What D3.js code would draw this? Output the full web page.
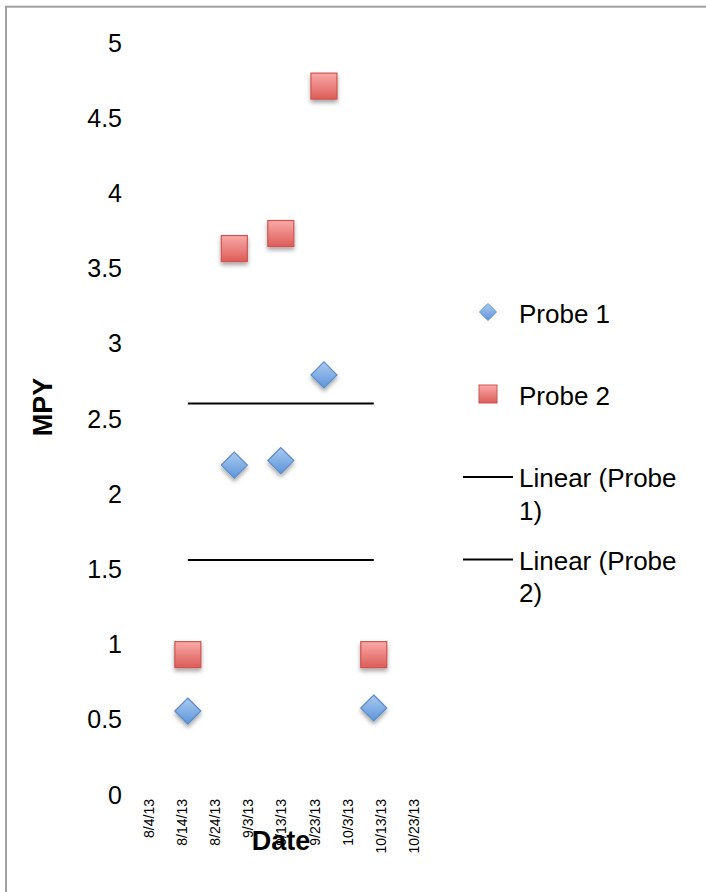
<!DOCTYPE html>
<html>
<head>
<meta charset="utf-8">
<script src="https://cdnjs.cloudflare.com/ajax/libs/d3/7.8.5/d3.min.js"></script>
<style>
	body { margin: 0; background: #fff; }
	text { font-family: Arial, 'Liberation Sans', sans-serif; fill: #000; }
</style>
</head>
<body>
<script>
// data
var dates = ['2013-08-16', '2013-08-30', '2013-09-13', '2013-09-26', '2013-10-11'];
var probe1 = [0.555, 2.19, 2.22, 2.79, 0.575];
var probe2 = [0.93, 3.63, 3.73, 4.71, 0.93];
var trend1 = [1.56, 1.56];   // Linear (Probe 1), start/end
var trend2 = [2.60, 2.60];   // Linear (Probe 2), start/end
var xTicks = ['2013-08-04', '2013-08-14', '2013-08-24', '2013-09-03', '2013-09-13',
	'2013-09-23', '2013-10-03', '2013-10-13', '2013-10-23'];
var yTicks = [0, 0.5, 1, 1.5, 2, 2.5, 3, 3.5, 4, 4.5, 5];
var seriesNames = ['Probe 1', 'Probe 2'];
var trendNames = [['Linear (Probe', '1)'], ['Linear (Probe', '2)']];

var width = 706,
	height = 892;

var parse = d3.utcParse('%Y-%m-%d'),
	fmt = d3.utcFormat('%-m/%-d/%y');

var x = d3.scaleUtc()
	.domain([parse(xTicks[0]), parse(xTicks[xTicks.length - 1])])
	.range([148, 413.6]);
var y = d3.scaleLinear().domain([0, 5]).range([794.5, 42.5]);

var svg = d3.select('body').append('svg')
	.attr('width', width)
	.attr('height', height);

var defs = svg.append('defs');

var gBlue = defs.append('linearGradient')
	.attr('id', 'gBlue').attr('x1', 0).attr('y1', 0).attr('x2', 0).attr('y2', 1);
gBlue.append('stop').attr('offset', '0%').attr('stop-color', '#a9caf0');
gBlue.append('stop').attr('offset', '100%').attr('stop-color', '#5f95d9');

var gRed = defs.append('linearGradient')
	.attr('id', 'gRed').attr('x1', 0).attr('y1', 0).attr('x2', 0).attr('y2', 1);
gRed.append('stop').attr('offset', '0%').attr('stop-color', '#f9aaa8');
gRed.append('stop').attr('offset', '100%').attr('stop-color', '#dc5c58');

defs.append('filter')
	.attr('id', 'shadow')
	.attr('x', '-50%').attr('y', '-50%').attr('width', '200%').attr('height', '200%')
	.append('feDropShadow')
	.attr('dx', 0).attr('dy', 3)
	.attr('stdDeviation', 2)
	.attr('flood-color', '#000')
	.attr('flood-opacity', 0.35);

// chart border
svg.append('rect')
	.attr('x', 6).attr('y', 6.7)
	.attr('width', 900).attr('height', 1000)
	.style('fill', 'none')
	.style('stroke', '#a0a0a0')
	.style('stroke-width', 2);

// y axis (labels only)
svg.append('g')
	.attr('transform', 'translate(122,0)')
	.call(d3.axisLeft(y).tickValues(yTicks).tickSize(0).tickPadding(0)
		.tickFormat(function(d) { return d; }))
	.call(function(g) { g.select('.domain').remove(); })
	.selectAll('text')
		.style('font-family', "Arial, 'Liberation Sans', sans-serif")
		.style('font-size', '25px')
		.attr('dy', '0.34em');

// x axis (rotated labels only)
svg.append('g')
	.attr('transform', 'translate(0,799)')
	.call(d3.axisBottom(x).tickValues(xTicks.map(parse)).tickSize(0).tickFormat(fmt))
	.call(function(g) { g.select('.domain').remove(); })
	.selectAll('text')
		.style('font-family', "Arial, 'Liberation Sans', sans-serif")
		.style('font-size', '14px')
		.style('text-anchor', 'end')
		.attr('y', 0)
		.attr('x', 0)
		.attr('dy', '0.36em')
		.attr('transform', 'rotate(-90)');

// axis titles
svg.append('text')
	.attr('transform', 'translate(52,407) rotate(-90)')
	.style('text-anchor', 'middle')
	.style('font-weight', 'bold')
	.style('font-size', '27px')
	.text('MPY');

svg.append('text')
	.attr('x', 281)
	.attr('y', 850)
	.style('text-anchor', 'middle')
	.style('font-weight', 'bold')
	.style('font-size', '27px')
	.text('Date');

// trend lines
var trendLine = d3.line()
	.x(function(d) { return x(d.date); })
	.y(function(d) { return y(d.v); });

[trend1, trend2].forEach(function(t) {
	var pts = [{date: parse(dates[0]), v: t[0]}, {date: parse(dates[dates.length - 1]), v: t[1]}];
	svg.append('path')
		.datum(pts)
		.attr('d', trendLine)
		.style('fill', 'none')
		.style('stroke', '#000')
		.style('stroke-width', 2);
});

var pts1 = dates.map(function(d, i) { return {date: parse(d), v: probe1[i]}; });
var pts2 = dates.map(function(d, i) { return {date: parse(d), v: probe2[i]}; });

function diamond(s) {
	return 'M0,' + (-s) + 'L' + s + ',0L0,' + s + 'L' + (-s) + ',0Z';
}

svg.selectAll('.p1')
	.data(pts1)
	.enter().append('path')
		.attr('class', 'p1')
		.attr('transform', function(d) { return 'translate(' + x(d.date) + ',' + y(d.v) + ')'; })
		.attr('d', diamond(13))
		.style('fill', 'url(#gBlue)')
		.style('stroke', '#5a8cc9')
		.style('stroke-width', 1.2)
		.attr('filter', 'url(#shadow)');

svg.selectAll('.p2')
	.data(pts2)
	.enter().append('rect')
		.attr('class', 'p2')
		.attr('x', function(d) { return x(d.date) - 13; })
		.attr('y', function(d) { return y(d.v) - 13; })
		.attr('width', 26)
		.attr('height', 26)
		.style('fill', 'url(#gRed)')
		.style('stroke', '#cc5652')
		.style('stroke-width', 1.2)
		.attr('filter', 'url(#shadow)');

// legend
var legend = svg.append('g').attr('class', 'legend');

legend.append('path')
	.attr('transform', 'translate(488,312)')
	.attr('d', diamond(8.5))
	.style('fill', 'url(#gBlue)')
	.style('stroke', '#5a8cc9');

legend.append('rect')
	.attr('x', 479).attr('y', 385)
	.attr('width', 18).attr('height', 18)
	.style('fill', 'url(#gRed)')
	.style('stroke', '#cc5652');

legend.selectAll('.lab')
	.data(seriesNames)
	.enter().append('text')
		.attr('class', 'lab')
		.attr('x', 519)
		.attr('y', function(d, i) { return 323 + i * 82; })
		.style('font-size', '26px')
		.text(function(d) { return d; });

trendNames.forEach(function(lines, i) {
	var ly = 477 + i * 82.5;
	legend.append('line')
		.attr('x1', 463).attr('x2', 513)
		.attr('y1', ly).attr('y2', ly)
		.style('stroke', '#000')
		.style('stroke-width', 2);
	legend.append('text')
		.attr('x', 519)
		.attr('y', ly + 10)
		.style('font-size', '26px')
		.selectAll('tspan')
		.data(lines)
		.enter().append('tspan')
			.attr('x', 519)
			.attr('dy', function(d, j) { return j ? 32.5 : 0; })
			.text(function(d) { return d; });
});
</script>
</body>
</html>
